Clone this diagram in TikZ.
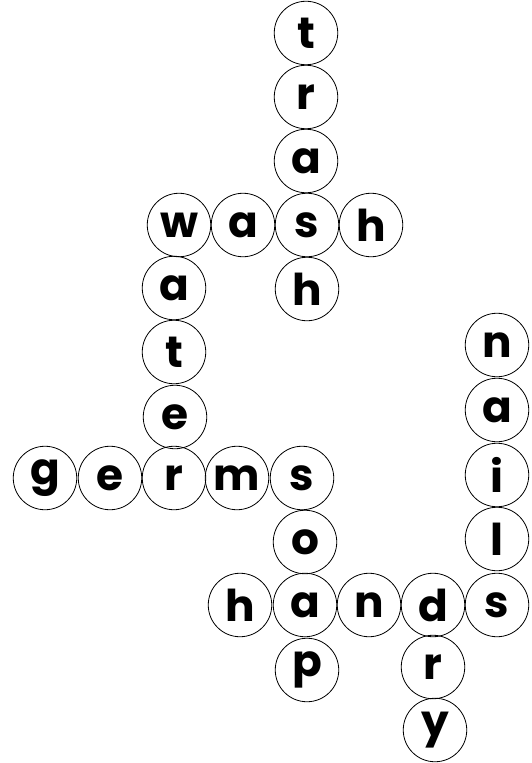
\documentclass[tikz,border=0pt]{standalone}
\usepackage{fontspec}
\newfontfamily\comic{Poppins}
\begin{document}
\begin{tikzpicture}[x=1bp,y=-1bp,
  letter/.style={circle,draw=black,line width=0.8bp,minimum size=63.5bp,inner sep=0pt,font=\comic\bfseries\fontsize{44}{44}\selectfont}]
\useasboundingbox (0,0) rectangle (532,763);
% trash
\node[letter] (t1) at (306,33) {t};
\node[letter] (t2) at (306,97) {r};
\node[letter] (t3) at (306,161) {a};
\node[letter] (t4) at (307,225) {s};
\node[letter] (t5) at (307,289) {h};
% wash
\node[letter] (w1) at (179,225) {w};
\node[letter] (w2) at (243,225) {a};
\node[letter] (w4) at (371,225) {h};
% water
\node[letter] (a2) at (174,288) {a};
\node[letter] (a3) at (174,352) {t};
\node[letter] (a4) at (175,417) {e};
\node[letter] (a5) at (174,478) {r};
% germs
\node[letter] (g1) at (45,478) {g};
\node[letter] (g2) at (110,478) {e};
\node[letter] (g4) at (237,478) {m};
\node[letter] (g5) at (302,478) {s};
% soap
\node[letter] (s2) at (305,542) {o};
\node[letter] (s3) at (305,605) {a};
\node[letter] (s4) at (307,670) {p};
% hands
\node[letter] (h1) at (240,605) {h};
\node[letter] (h3) at (369,605) {n};
\node[letter] (h4) at (433,605) {d};
\node[letter] (h5) at (497,605) {s};
% dry
\node[letter] (d2) at (433,667) {r};
\node[letter] (d3) at (435,730) {y};
% nails
\node[letter] (n1) at (497,345) {n};
\node[letter] (n2) at (497,410) {a};
\node[letter] (n3) at (497,475) {i};
\node[letter] (n4) at (497,539) {l};
\end{tikzpicture}
\end{document}
